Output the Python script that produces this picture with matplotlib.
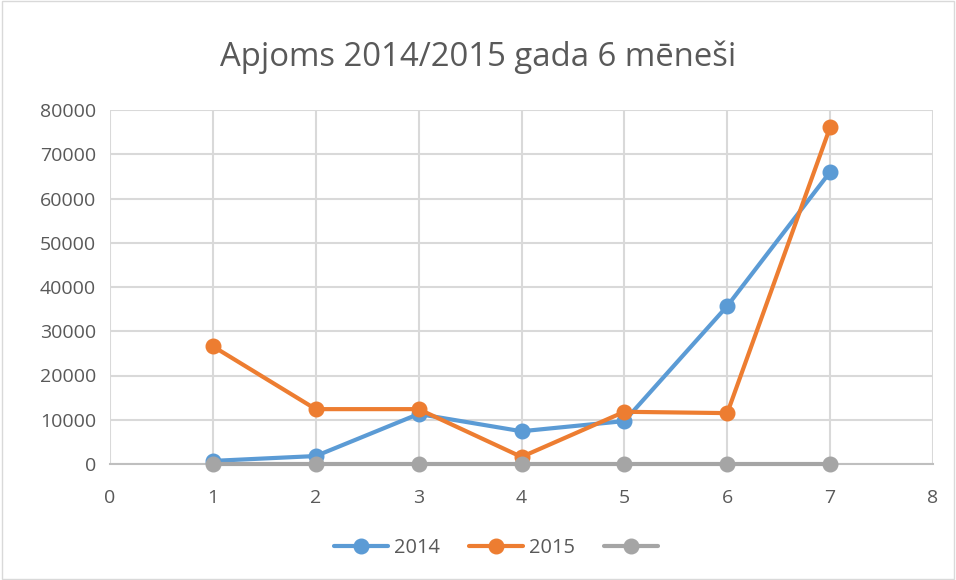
import matplotlib
matplotlib.use("Agg")
import matplotlib.pyplot as plt
from matplotlib.patches import Rectangle

x_vals = [1, 2, 3, 4, 5, 6, 7]
s2014 = [700, 1800, 11300, 7400, 9700, 35700, 66000]
s2015 = [26600, 12400, 12400, 1600, 11800, 11500, 76100]
s3 = [0, 0, 0, 0, 0, 0, 0]
labels = ["2014", "2015", " "]
xticks = list(range(0, 9))
yticks = list(range(0, 80001, 10000))
title = "Apjoms 2014/2015 gada 6 mēneši"

plt.rcParams['font.family'] = ['Open Sans', 'DejaVu Sans']

fig = plt.figure(figsize=(9.56, 5.8), dpi=100)
fig.patches.append(Rectangle((0.002, 0.002), 0.996, 0.996, transform=fig.transFigure,
                             fill=False, edgecolor='#d9d9d9', linewidth=1))
ax = fig.add_axes([110/956, 1-464/580, (933-110)/956, (464-110)/580])

colors = ['#5b9bd5', '#ed7d31', '#a5a5a5']
for i, (ys, c, lab) in enumerate(zip([s2014, s2015, s3], colors, labels)):
    ax.plot(x_vals, ys, color=c, linewidth=3, marker='o', markersize=10.5, label=lab,
            solid_capstyle='round', zorder=3 + i, clip_on=False)

ax.set_xlim(0, 8)
ax.set_ylim(0, 80000)
ax.set_xticks(xticks)
ax.set_yticks(yticks)
ax.grid(True, color='#d9d9d9', linewidth=1.5)
ax.set_axisbelow(True)
for sp in ['top', 'right', 'left']:
    ax.spines[sp].set_visible(False)
ax.spines['bottom'].set_color('#bfbfbf')
ax.spines['bottom'].set_linewidth(1.5)
ax.tick_params(length=0, labelsize=14, labelcolor='#595959')
ax.tick_params(axis='x', pad=18)
ax.tick_params(axis='y', pad=10)

fig.text(0.5, 1-57/580, title, ha='center', va='center', fontsize=23.7, color='#595959')

leg = fig.legend(loc='center', bbox_to_anchor=(0.525, 1-548/580), ncol=3, frameon=False,
                 fontsize=14.4, handlelength=2.7, columnspacing=1.45, handletextpad=0.3)
for t in leg.get_texts():
    t.set_color('#595959')

fig.savefig('out.png', dpi=100)
